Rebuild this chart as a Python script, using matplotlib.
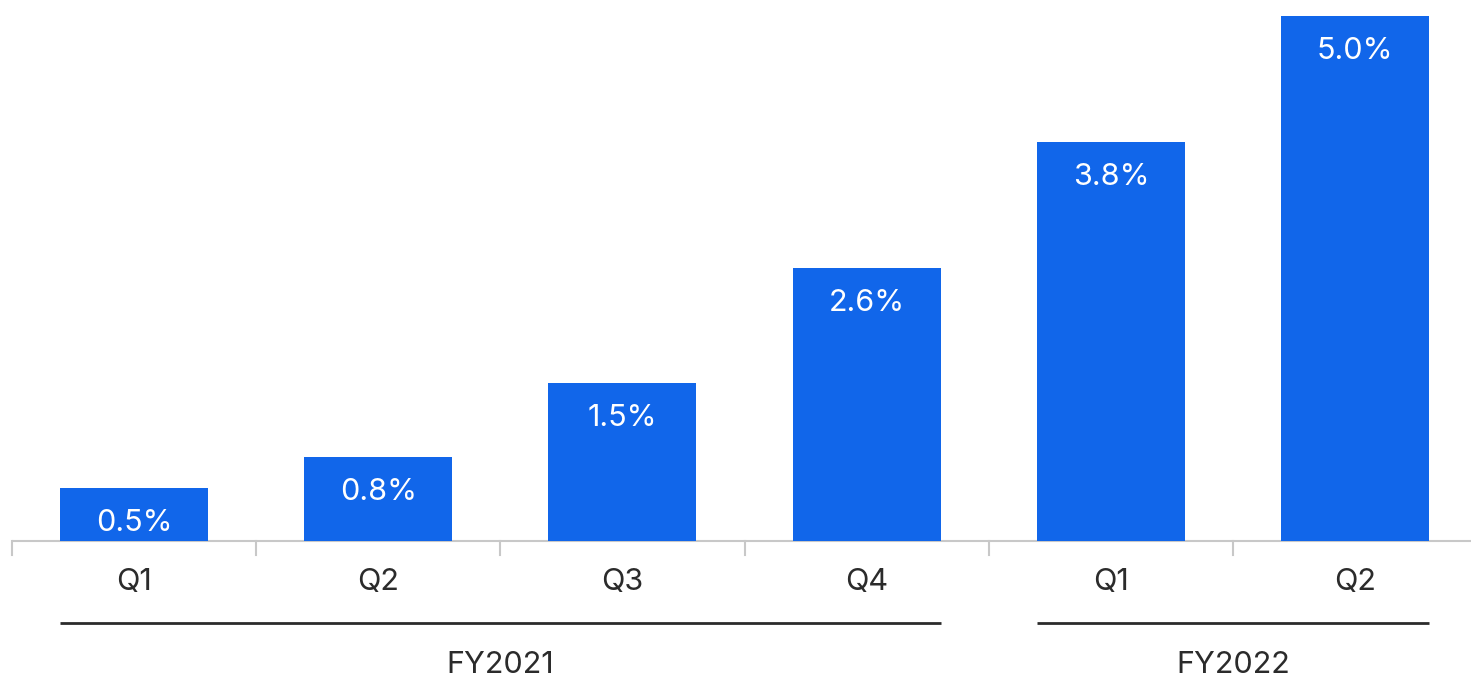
import matplotlib
matplotlib.use("Agg")
import matplotlib.pyplot as plt

matplotlib.rcParams['font.family'] = ['Inter', 'DejaVu Sans']

quarters = ["Q1", "Q2", "Q3", "Q4", "Q1", "Q2"]
values = [0.5, 0.8, 1.5, 2.6, 3.8, 5.0]
years = ["FY2021", "FY2022"]
year_spans = [(0, 3), (4, 5)]   # first and last bar index of each year

blue = "#1166EA"
dark = "#2b2b2b"
fs = 22

fig = plt.figure(figsize=(14.71, 6.76), dpi=100)
ax = fig.add_axes([0, 0, 1, 1])
ax.set_xlim(-0.549, 5.475)
ax.set_ylim(-1.286, 5.152)
ax.axis('off')

x = list(range(len(values)))
bw = 0.606
ax.bar(x, values, width=bw, color=blue, zorder=2)

for xi, v in zip(x, values):
    ax.annotate("%.1f%%" % v, (xi, v), xytext=(0, -25), textcoords='offset points',
                ha='center', va='center', color='white', fontsize=fs)

# baseline with ticks between the bars
ax.plot([-0.5, 5.6], [0, 0], color="#c8c8c8", lw=1.5, zorder=1, solid_capstyle='butt')
for t in [i + 0.5 for i in range(-1, 5)]:
    ax.plot([t, t], [0, -0.13], color="#c8c8c8", lw=1.5, zorder=1)

for xi, q in zip(x, quarters):
    ax.text(xi, -0.39, q, ha='center', va='center', color=dark, fontsize=fs)

# fiscal year brackets
for yr, (a, b) in zip(years, year_spans):
    ax.plot([a - bw / 2, b + bw / 2], [-0.78, -0.78], color=dark, lw=2,
            solid_capstyle='butt')
    ax.text((a + b) / 2, -1.18, yr, ha='center', va='center', color=dark, fontsize=fs)

fig.savefig("out.png", dpi=100)
